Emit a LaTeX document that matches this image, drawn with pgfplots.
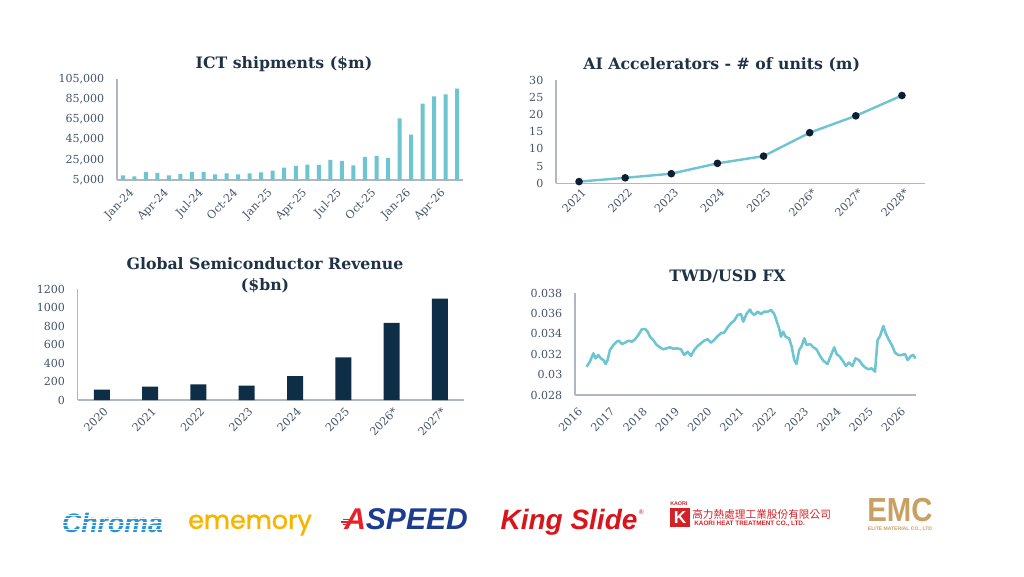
\documentclass[border=0pt]{standalone}
\usepackage{fontspec}
\setmainfont{DejaVu Serif}
\newfontfamily\lsans{Liberation Sans}
\newfontfamily\popp[FakeBold=1.5]{Poppins}
\newfontfamily\cjk{Noto Sans CJK TC}
\usepackage{pgfplots}
\usepackage{pgfplotstable}
\pgfplotsset{compat=1.18}
\usetikzlibrary{calc}
\definecolor{titlec}{HTML}{1F3347}
\definecolor{ticktxt}{HTML}{44546A}
\definecolor{axgray}{HTML}{B0B7C0}
\definecolor{teal}{HTML}{6CC5D0}
\definecolor{navy}{HTML}{0D2E46}
\definecolor{dotc}{HTML}{0E1F33}
\definecolor{chromablue}{HTML}{2A93D5}
\definecolor{emyellow}{HTML}{F7B500}
\definecolor{aspred}{HTML}{E8202A}
\definecolor{aspblue}{HTML}{1B3D91}
\definecolor{ksred}{HTML}{D9141B}
\definecolor{kaored}{HTML}{D42027}
\definecolor{emcgold}{HTML}{C9A063}

\pgfplotstableread{
x y
2016.36 0.03078
2016.46 0.03127
2016.57 0.0321
2016.64 0.0316
2016.72 0.03193
2016.80 0.0316
2016.88 0.03144
2016.95 0.03105
2017.01 0.03144
2017.08 0.03242
2017.19 0.03292
2017.29 0.03324
2017.36 0.03334
2017.45 0.03301
2017.55 0.03314
2017.65 0.03334
2017.76 0.03324
2017.86 0.03348
2017.96 0.0339
2018.07 0.03446
2018.17 0.03449
2018.25 0.03422
2018.32 0.03373
2018.42 0.03341
2018.53 0.03292
2018.63 0.03269
2018.73 0.03249
2018.84 0.03259
2018.94 0.03269
2019.04 0.03255
2019.15 0.03259
2019.28 0.03249
2019.38 0.03193
2019.49 0.03226
2019.59 0.03183
2019.69 0.03242
2019.80 0.03282
2019.90 0.03308
2020.00 0.03334
2020.11 0.03348
2020.21 0.03314
2020.31 0.03341
2020.42 0.0338
2020.52 0.03407
2020.62 0.03413
2020.73 0.03466
2020.83 0.03505
2020.93 0.03531
2021.04 0.03587
2021.14 0.03596
2021.21 0.03521
2021.32 0.03603
2021.42 0.0364
2021.47 0.03609
2021.55 0.03587
2021.66 0.03619
2021.76 0.03596
2021.86 0.03619
2021.97 0.03619
2022.07 0.03636
2022.17 0.03596
2022.25 0.03521
2022.32 0.03456
2022.38 0.03373
2022.45 0.03422
2022.52 0.03373
2022.63 0.03357
2022.71 0.03275
2022.79 0.03144
2022.86 0.03105
2022.94 0.03242
2023.02 0.03282
2023.10 0.03357
2023.17 0.03292
2023.28 0.03301
2023.38 0.03269
2023.48 0.03249
2023.59 0.03183
2023.69 0.03137
2023.82 0.03105
2023.93 0.03193
2024.03 0.03269
2024.10 0.03203
2024.20 0.03177
2024.31 0.03127
2024.39 0.03085
2024.48 0.03118
2024.59 0.03085
2024.69 0.0316
2024.79 0.03144
2024.88 0.03105
2024.98 0.03072
2025.08 0.03053
2025.19 0.03062
2025.29 0.03029
2025.37 0.03341
2025.44 0.03373
2025.55 0.03478
2025.62 0.03407
2025.72 0.03341
2025.81 0.03292
2025.91 0.03216
2026.01 0.03193
2026.11 0.03193
2026.22 0.03203
2026.30 0.03144
2026.40 0.03183
2026.47 0.03193
2026.55 0.0316
}\fxdata

\pgfplotsset{
  myax/.style={
    scale only axis,
    axis x line*=bottom, axis y line*=left,
    axis line style={-, draw=axgray, line width=0.8pt},
    major tick length=0pt,
    scaled ticks=false,
    tick label style={font=\fontsize{8.3}{9}\selectfont, text=ticktxt},
    /pgf/number format/fixed,
    /pgf/number format/assume math mode=true,
    enlargelimits=false,
    yticklabel style={xshift=-6pt},
    xticklabel style={rotate=45, anchor=north east, inner sep=1pt},
  }
}
\tikzset{ttl/.style={text=titlec, font=\bfseries\fontsize{11.8}{15.5}\selectfont, align=center}}

\begin{document}
\begin{tikzpicture}
\fill[white] (0,0) rectangle (768pt,432pt);

% ---------------- ICT shipments
\begin{axis}[myax, at={(87.75pt,297pt)}, anchor=south west,
  width=259.5pt, height=75.75pt,
  xmin=-0.5, xmax=29.5, ymin=5000, ymax=105000,
  ytick={5000,25000,45000,65000,85000,105000},
  /pgf/number format/1000 sep={,},
  xtick={0,3,6,9,12,15,18,21,24,27},
  xticklabels={Jan-24,Apr-24,Jul-24,Oct-24,Jan-25,Apr-25,Jul-25,Oct-25,Jan-26,Apr-26},
  xticklabel style={yshift=-6pt},
  ybar, bar width=3pt]
\addplot[fill=teal, draw=none] coordinates {
(0,9600)(1,8600)(2,13000)(3,12000)(4,9600)(5,11000)(6,13000)(7,13000)(8,10600)(9,11600)
(10,10600)(11,11600)(12,12600)(13,14300)(14,17300)(15,19000)(16,20200)(17,19900)(18,24900)(19,23900)
(20,19600)(21,27800)(22,28800)(23,26900)(24,65900)(25,50000)(26,80500)(27,87800)(28,89800)(29,95400)};
\end{axis}
\node[ttl] at (213pt,384pt) {ICT shipments (\$m)};

% ---------------- AI accelerators
\begin{axis}[myax, at={(417pt,294.5pt)}, anchor=south west,
  width=276.75pt, height=77.5pt,
  xmin=-0.5, xmax=7.5, ymin=0, ymax=30,
  ytick={0,5,10,15,20,25,30},
  xtick={0,...,7},
  xticklabels={2021,2022,2023,2024,2025,2026*,2027*,2028*},
  xticklabel style={yshift=-2pt},
  clip=false]
\addplot[teal, line width=1.8pt, mark=*, mark size=1.9pt,
  mark options={fill=dotc, draw=dotc}] coordinates {
(0,0.5)(1,1.6)(2,2.8)(3,5.8)(4,7.9)(5,14.7)(6,19.6)(7,25.5)};
\end{axis}
\node[ttl] at (541.3pt,383.25pt) {AI Accelerators - \# of units (m)};

% ---------------- Global semiconductor revenue
\begin{axis}[myax, at={(58.3pt,132pt)}, anchor=south west,
  width=289.7pt, height=83pt,
  xmin=-0.5, xmax=7.5, ymin=0, ymax=1200,
  ytick={0,200,400,600,800,1000,1200},
  /pgf/number format/1000 sep={},
  xtick={0,...,7},
  xticklabels={2020,2021,2022,2023,2024,2025,2026*,2027*},
  xticklabel style={yshift=-3pt, xshift=-2pt},
  ybar, bar width=12pt]
\addplot[fill=navy, draw=none] coordinates {
(0,112)(1,145)(2,170)(3,155)(4,260)(5,463)(6,835)(7,1099)};
\end{axis}
\node[ttl] at (198.75pt,225.75pt) {Global Semiconductor Revenue\\(\$bn)};

% ---------------- TWD/USD FX
\begin{axis}[myax, at={(431.25pt,135.75pt)}, anchor=south west,
  width=255.75pt, height=76.3pt,
  xmin=2016, xmax=2026.56, ymin=0.028, ymax=0.038,
  ytick={0.028,0.03,0.032,0.034,0.036,0.038},
  /pgf/number format/precision=3,
  xtick={2016,2017,2018,2019,2020,2021,2022,2023,2024,2025,2026},
  xticklabels={2016,2017,2018,2019,2020,2021,2022,2023,2024,2025,2026},
  xticklabel style={yshift=-6.5pt, xshift=-4pt}]
\addplot[teal, line width=1.9pt, line join=round] table[x=x, y=y] {\fxdata};
\end{axis}
\node[ttl] at (545.6pt,224.5pt) {TWD/USD FX};

% ---------------- logos
\node[text=chromablue, font=\lsans\bfseries\itshape\fontsize{20}{20}\selectfont, inner sep=0pt] (chroma) at (84.4pt,39.75pt) {Chroma};
\foreach \f in {0.18,0.36,0.54,0.72,0.88}
  \draw[white, line width=0.5pt] ($(chroma.south west)!\f!(chroma.north west)$) -- ($(chroma.south east)!\f!(chroma.north east)$);

\node[text=emyellow, font=\popp\fontsize{19}{19}\selectfont, inner sep=0pt] at (187.5pt,38.25pt) {ememory};

\node[font=\lsans\bfseries\itshape\fontsize{22.5}{22.5}\selectfont, inner sep=0pt] at (304.5pt,42.75pt) {\textcolor{aspred}{A}\textcolor{aspblue}{SPEED}};
\foreach \yy/\ll in {42.5/5, 40.5/6.5, 38.5/5, 36.5/3.5}
  \draw[aspred, line width=1.2pt] (262pt-\ll pt,\yy pt) -- (262pt,\yy pt);

\node[text=ksred, font=\lsans\bfseries\itshape\fontsize{21}{21}\selectfont, inner sep=0pt] at (426.75pt,40.5pt) {King Slide};
\node[text=ksred, font=\lsans\fontsize{5}{5}\selectfont, inner sep=0pt] at (481pt,48pt) {®};

\fill[kaored] (502.5pt,36.75pt) rectangle (517.5pt,51pt);
\node[text=white, font=\lsans\bfseries\fontsize{13}{13}\selectfont, inner sep=0pt] at (510pt,43.8pt) {K};
\node[text=kaored, font=\lsans\bfseries\fontsize{4}{4}\selectfont, inner sep=0pt, anchor=west] at (502.5pt,54pt) {KAORI};
\node[text=kaored, font=\cjk\fontsize{8}{8}\selectfont, inner sep=0pt, anchor=west] at (519pt,46.5pt) {高力熱處理工業股份有限公司};
\node[text=kaored, font=\lsans\bfseries\fontsize{4.8}{5}\selectfont, inner sep=0pt, anchor=west] at (520.5pt,39pt) {KAORI HEAT TREATMENT CO., LTD.};

\node[text=emcgold, font=\lsans\bfseries\fontsize{25}{25}\selectfont, inner sep=0pt, xscale=0.88] at (675pt,49.6pt) {EMC};
\node[text=emcgold, font=\lsans\bfseries\fontsize{3.8}{4}\selectfont, inner sep=0pt] at (675pt,35pt) {ELITE MATERIAL CO., LTD};
\end{tikzpicture}
\end{document}
